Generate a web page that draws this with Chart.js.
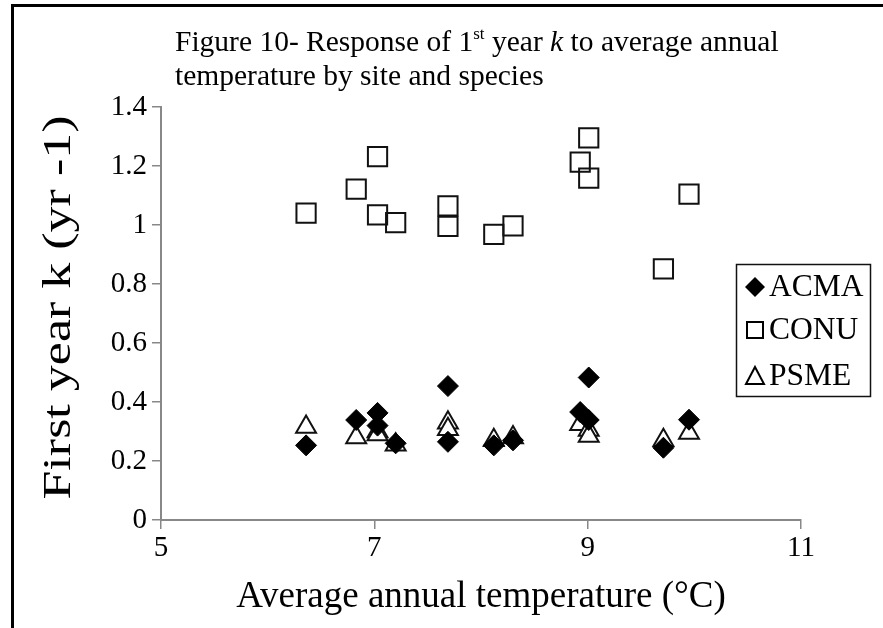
<!DOCTYPE html>
<html>
<head>
<meta charset="utf-8">
<script src="https://cdn.jsdelivr.net/npm/chart.js@4"></script>
<style>
body{margin:0;background:#fff;}
#wrap{position:relative;width:883px;height:628px;overflow:hidden;}
#frame{position:absolute;left:11px;top:4px;width:900px;height:700px;border-left:3px solid #000;border-top:3px solid #000;}
#title{position:absolute;left:175px;top:24px;font-family:"Liberation Serif",serif;font-size:29.5px;line-height:34px;color:#000;white-space:nowrap;}
#title sup{font-size:17px;vertical-align:12px;line-height:0;}
</style>
</head>
<body>
<div id="wrap">
<canvas id="chart" width="883" height="628"></canvas>
<div id="frame"></div>
<div id="title">Figure 10- Response of 1<sup>st</sup> year <i>k</i> to average annual<br>temperature by site and species</div>
</div>
<script>

// average annual temperature of each site (°C)
const siteTemps=[6.36,6.83,7.03,7.03,7.20,7.69,7.69,8.12,8.30,8.93,9.01,9.01,9.71,9.95];

// first year k (yr-1) per species, same site order
const acmaK=[0.253,0.339,0.363,0.32,0.26,0.454,0.265,0.253,0.27,0.366,0.483,0.339,0.245,0.34];
const conuK=[1.04,1.122,1.232,1.034,1.008,1.065,0.995,0.968,0.997,1.213,1.295,1.159,0.851,1.105];
const psmeK=[0.315,0.28,0.30,0.29,0.255,0.33,0.308,0.27,0.28,0.325,0.305,0.285,0.27,0.295];

const speciesNames=["ACMA","CONU","PSME"];
const xTicks=[5,7,9,11];
const yTitle="First year k (yr -1)";

const serif="'Liberation Serif', 'Times New Roman', serif";

function toPoints(vals){
return siteTemps.map((t,i)=>({x:t,y:vals[i]}));
}

// y axis title, a bit condensed like the original
const yTitlePlugin={
id:"yTitlePlugin",
afterDraw(chart){
const ctx=chart.ctx;
const a=chart.chartArea;
ctx.save();
ctx.translate(59,(a.top+a.bottom)/2-6);
ctx.rotate(-Math.PI/2);
ctx.scale(1,0.78);
ctx.font="52px "+serif;
ctx.fillStyle="#000";
ctx.textAlign="center";
ctx.textBaseline="middle";
ctx.fillText(yTitle,0,0);
ctx.restore();
}
};

// legend box drawn inside the plot like the original
const boxLegend={
id:"boxLegend",
afterDraw(chart){
const ctx=chart.ctx;
ctx.save();
ctx.strokeStyle="#111";
ctx.lineWidth=1.5;
ctx.strokeRect(736.5,264.5,134,132);
const rows=[287,330,376];
const mx=755;
rows.forEach((y,i)=>{
ctx.beginPath();
ctx.lineWidth=2;
ctx.strokeStyle="#000";
if(i==0){
ctx.moveTo(mx,y-10);ctx.lineTo(mx+10,y);ctx.lineTo(mx,y+10);ctx.lineTo(mx-10,y);ctx.closePath();
ctx.fillStyle="#000";ctx.fill();
}else if(i==1){
ctx.rect(mx-8,y-8,16,16);
ctx.stroke();
}else{
ctx.moveTo(mx,y-9);ctx.lineTo(mx+9,y+8);ctx.lineTo(mx-9,y+8);ctx.closePath();
ctx.stroke();
}
ctx.fillStyle="#000";
ctx.font="31.5px "+serif;
ctx.textBaseline="middle";
ctx.fillText(speciesNames[i],769,y+1);
});
ctx.restore();
}
};

new Chart(document.getElementById("chart"),{
type:"scatter",
data:{
datasets:[
{
label:speciesNames[0],
data:toPoints(acmaK),
pointStyle:"rectRot",
pointRadius:10.5,
backgroundColor:"#000",
borderColor:"#000",
borderWidth:1
},
{
label:speciesNames[1],
data:toPoints(conuK),
pointStyle:"rect",
pointRadius:13.6,
backgroundColor:"rgba(255,255,255,0)",
borderColor:"#111",
borderWidth:2
},
{
label:speciesNames[2],
data:toPoints(psmeK),
pointStyle:"triangle",
pointRadius:11.5,
backgroundColor:"#fff",
borderColor:"#111",
borderWidth:2
}
]
},
options:{
responsive:false,
animation:false,
layout:{padding:{top:107,right:82,bottom:0,left:0}},
plugins:{
legend:{display:false},
tooltip:{enabled:false}
},
scales:{
x:{
type:"linear",
min:5,
max:11,
afterBuildTicks(scale){
scale.ticks=xTicks.map(v=>({value:v}));
},
afterFit(scale){
scale.height=108;
},
border:{color:"#888",width:2},
grid:{drawOnChartArea:false,color:"#888",lineWidth:1.5,tickLength:9},
ticks:{color:"#000",font:{family:serif,size:29},padding:2,maxRotation:0},
title:{display:true,text:"Average annual temperature (°C)",color:"#000",font:{family:serif,size:37},padding:{top:0,bottom:9}}
},
y:{
min:0,
max:1.4,
afterFit(scale){
scale.width=161;
},
border:{color:"#888",width:2},
grid:{drawOnChartArea:false,color:"#888",lineWidth:1.5,tickLength:9},
ticks:{
stepSize:0.2,
color:"#000",
font:{family:serif,size:29},
padding:5,
callback:v=>String(+v.toFixed(1))
}
}
}
},
plugins:[yTitlePlugin,boxLegend]
});

</script>
</body>
</html>
